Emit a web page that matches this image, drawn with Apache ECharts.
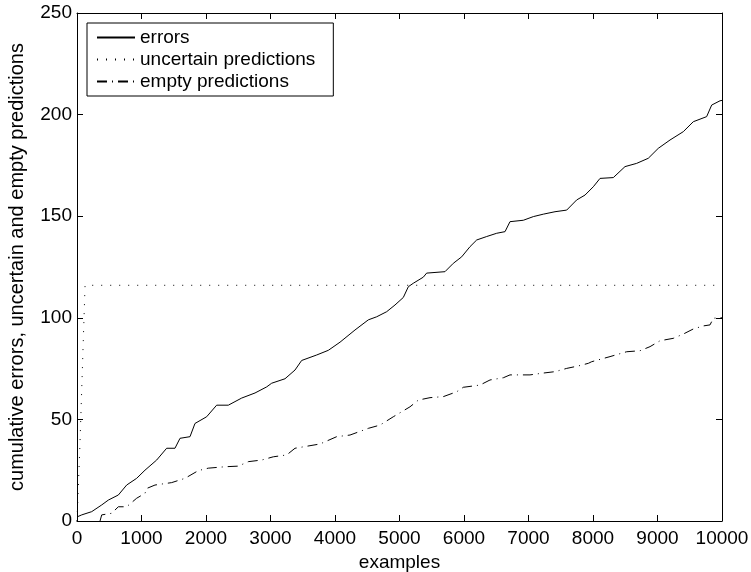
<!DOCTYPE html>
<html>
<head>
<meta charset="utf-8">
<script src="https://cdn.jsdelivr.net/npm/echarts@6/dist/echarts.min.js"></script>
<style>
  html, body { margin: 0; padding: 0; background: #fff; }
  #chart { width: 751px; height: 572px; }
</style>
</head>
<body>
<div id="chart"></div>
<script>
// cumulative counts, [example index, count]
const errors = [
  [0, 2], [73, 3], [228, 4.6], [383, 7.9], [486, 10.3], [641, 12.8], [770, 17.7], [925, 21],
  [1054, 25], [1235, 30], [1390, 35.8], [1519, 35.8], [1597, 40.7], [1752, 41.5], [1829, 48],
  [2010, 51.3], [2165, 57], [2346, 57], [2553, 60.5], [2760, 63], [2941, 66], [3018, 67.8],
  [3225, 70], [3380, 74.3], [3483, 79], [3716, 81.7], [3897, 84], [4078, 88], [4310, 94],
  [4517, 99], [4646, 100.5], [4801, 103], [4930, 106.3], [5059, 110], [5137, 115.3], [5214, 117],
  [5369, 120], [5421, 122], [5705, 122.7], [5834, 126.8], [5964, 130], [6093, 135], [6197, 138.3],
  [6352, 140], [6507, 141.6], [6636, 142.4], [6713, 147.3], [6920, 148], [7075, 149.8], [7230, 151],
  [7411, 152.2], [7592, 153], [7747, 158], [7876, 160.4], [8005, 164.5], [8109, 168.6], [8315, 169],
  [8496, 174.4], [8677, 176], [8857, 178.5], [9012, 183.4], [9194, 187.5], [9400, 191.6],
  [9555, 196.5], [9762, 199], [9840, 204.7], [9969, 206.8], [10000, 207]
];
const uncertain = [[0, 0], [45, 37], [125, 116], [10000, 116]];
const empty = [
  [357, 0], [383, 3], [537, 3.8], [641, 7], [770, 7], [925, 11.2], [1054, 13.6], [1080, 16],
  [1209, 17.7], [1468, 18.9], [1674, 21], [1881, 24.8], [2036, 26], [2295, 26.7], [2501, 27],
  [2656, 29.2], [2863, 30], [3044, 31.6], [3251, 32.5], [3380, 35.8], [3406, 36.6], [3767, 37.9],
  [4026, 41.5], [4233, 42.3], [4517, 45.6], [4698, 47.2], [4904, 51.3], [5163, 56.2], [5292, 59.5],
  [5473, 60.7], [5679, 61.2], [5887, 63.6], [5989, 65.8], [6248, 66.9], [6403, 69.4], [6610, 70.5],
  [6713, 71.9], [7023, 71.9], [7204, 72.7], [7411, 73.5], [7592, 75.1], [7772, 76.3], [7928, 77.6],
  [7980, 78.4], [8264, 80.9], [8522, 83.3], [8729, 83.8], [8884, 85.8], [9039, 88.7], [9245, 89.9],
  [9400, 92], [9555, 94.5], [9710, 96], [9814, 96.5], [9866, 99.8], [9969, 100], [10000, 100]
];
const seriesNames = ["errors", "uncertain predictions", "empty predictions"];

const font = "Liberation Sans, Arial, Helvetica, sans-serif";
const fs = 19;
const axisBase = {
  axisLine: { show: true, onZero: false, lineStyle: { color: "#000", width: 1 } },
  axisTick: { show: true, inside: true, length: 6, lineStyle: { color: "#000" } },
  splitLine: { show: false }
};

let myChart = echarts.init(document.getElementById("chart"));
myChart.setOption({
  animation: false,
  backgroundColor: "#fff",
  textStyle: { fontFamily: font, color: "#000" },
  grid: { left: 77, right: 29, top: 13, bottom: 51, containLabel: false, outerBoundsMode: "none" },
  legend: {
    orient: "vertical",
    left: 87,
    top: 23,
    itemWidth: 38,
    itemHeight: 2,
    itemGap: 3,
    padding: [5, 18, 5, 9],
    borderColor: "#000",
    borderWidth: 1,
    borderRadius: 0,
    backgroundColor: "#fff",
    itemStyle: { opacity: 0 },
    textStyle: { fontFamily: font, fontSize: fs, color: "#000" },
    data: seriesNames
  },
  xAxis: [
    Object.assign({}, axisBase, {
      type: "value", min: 0, max: 10000, interval: 1000, position: "bottom",
      name: "examples", nameLocation: "middle", nameGap: 32,
      nameTextStyle: { fontFamily: font, fontSize: fs, color: "#000" },
      axisLabel: { fontFamily: font, fontSize: fs, color: "#000", margin: 8,
        formatter: function (v) { return String(v); } }
    }),
    Object.assign({}, axisBase, {
      type: "value", min: 0, max: 10000, interval: 1000, position: "top",
      axisLabel: { show: false }
    })
  ],
  yAxis: [
    Object.assign({}, axisBase, {
      type: "value", min: 0, max: 250, interval: 50, position: "left",
      name: "cumulative errors, uncertain and empty predictions",
      nameLocation: "middle", nameGap: 50,
      nameTextStyle: { fontFamily: font, fontSize: 20, color: "#000" },
      axisLabel: { fontFamily: font, fontSize: fs, color: "#000", margin: 5 }
    }),
    Object.assign({}, axisBase, {
      type: "value", min: 0, max: 250, interval: 50, position: "right",
      axisLabel: { show: false }
    })
  ],
  series: [
    {
      name: seriesNames[0], type: "line", data: errors, symbol: "none",
      lineStyle: { color: "#000", width: 1, type: "solid" }, itemStyle: { color: "#000" }
    },
    {
      name: seriesNames[1], type: "line", data: uncertain, symbol: "none",
      lineStyle: { color: "#000", width: 1, type: [1, 8] }, itemStyle: { color: "#000" }
    },
    {
      name: seriesNames[2], type: "line", data: empty, symbol: "none",
      lineStyle: { color: "#000", width: 1, type: [10, 5, 1, 5] }, itemStyle: { color: "#000" }
    }
  ]
});
window.addEventListener("resize", function () {
  myChart.resize();
});
</script>
</body>
</html>
